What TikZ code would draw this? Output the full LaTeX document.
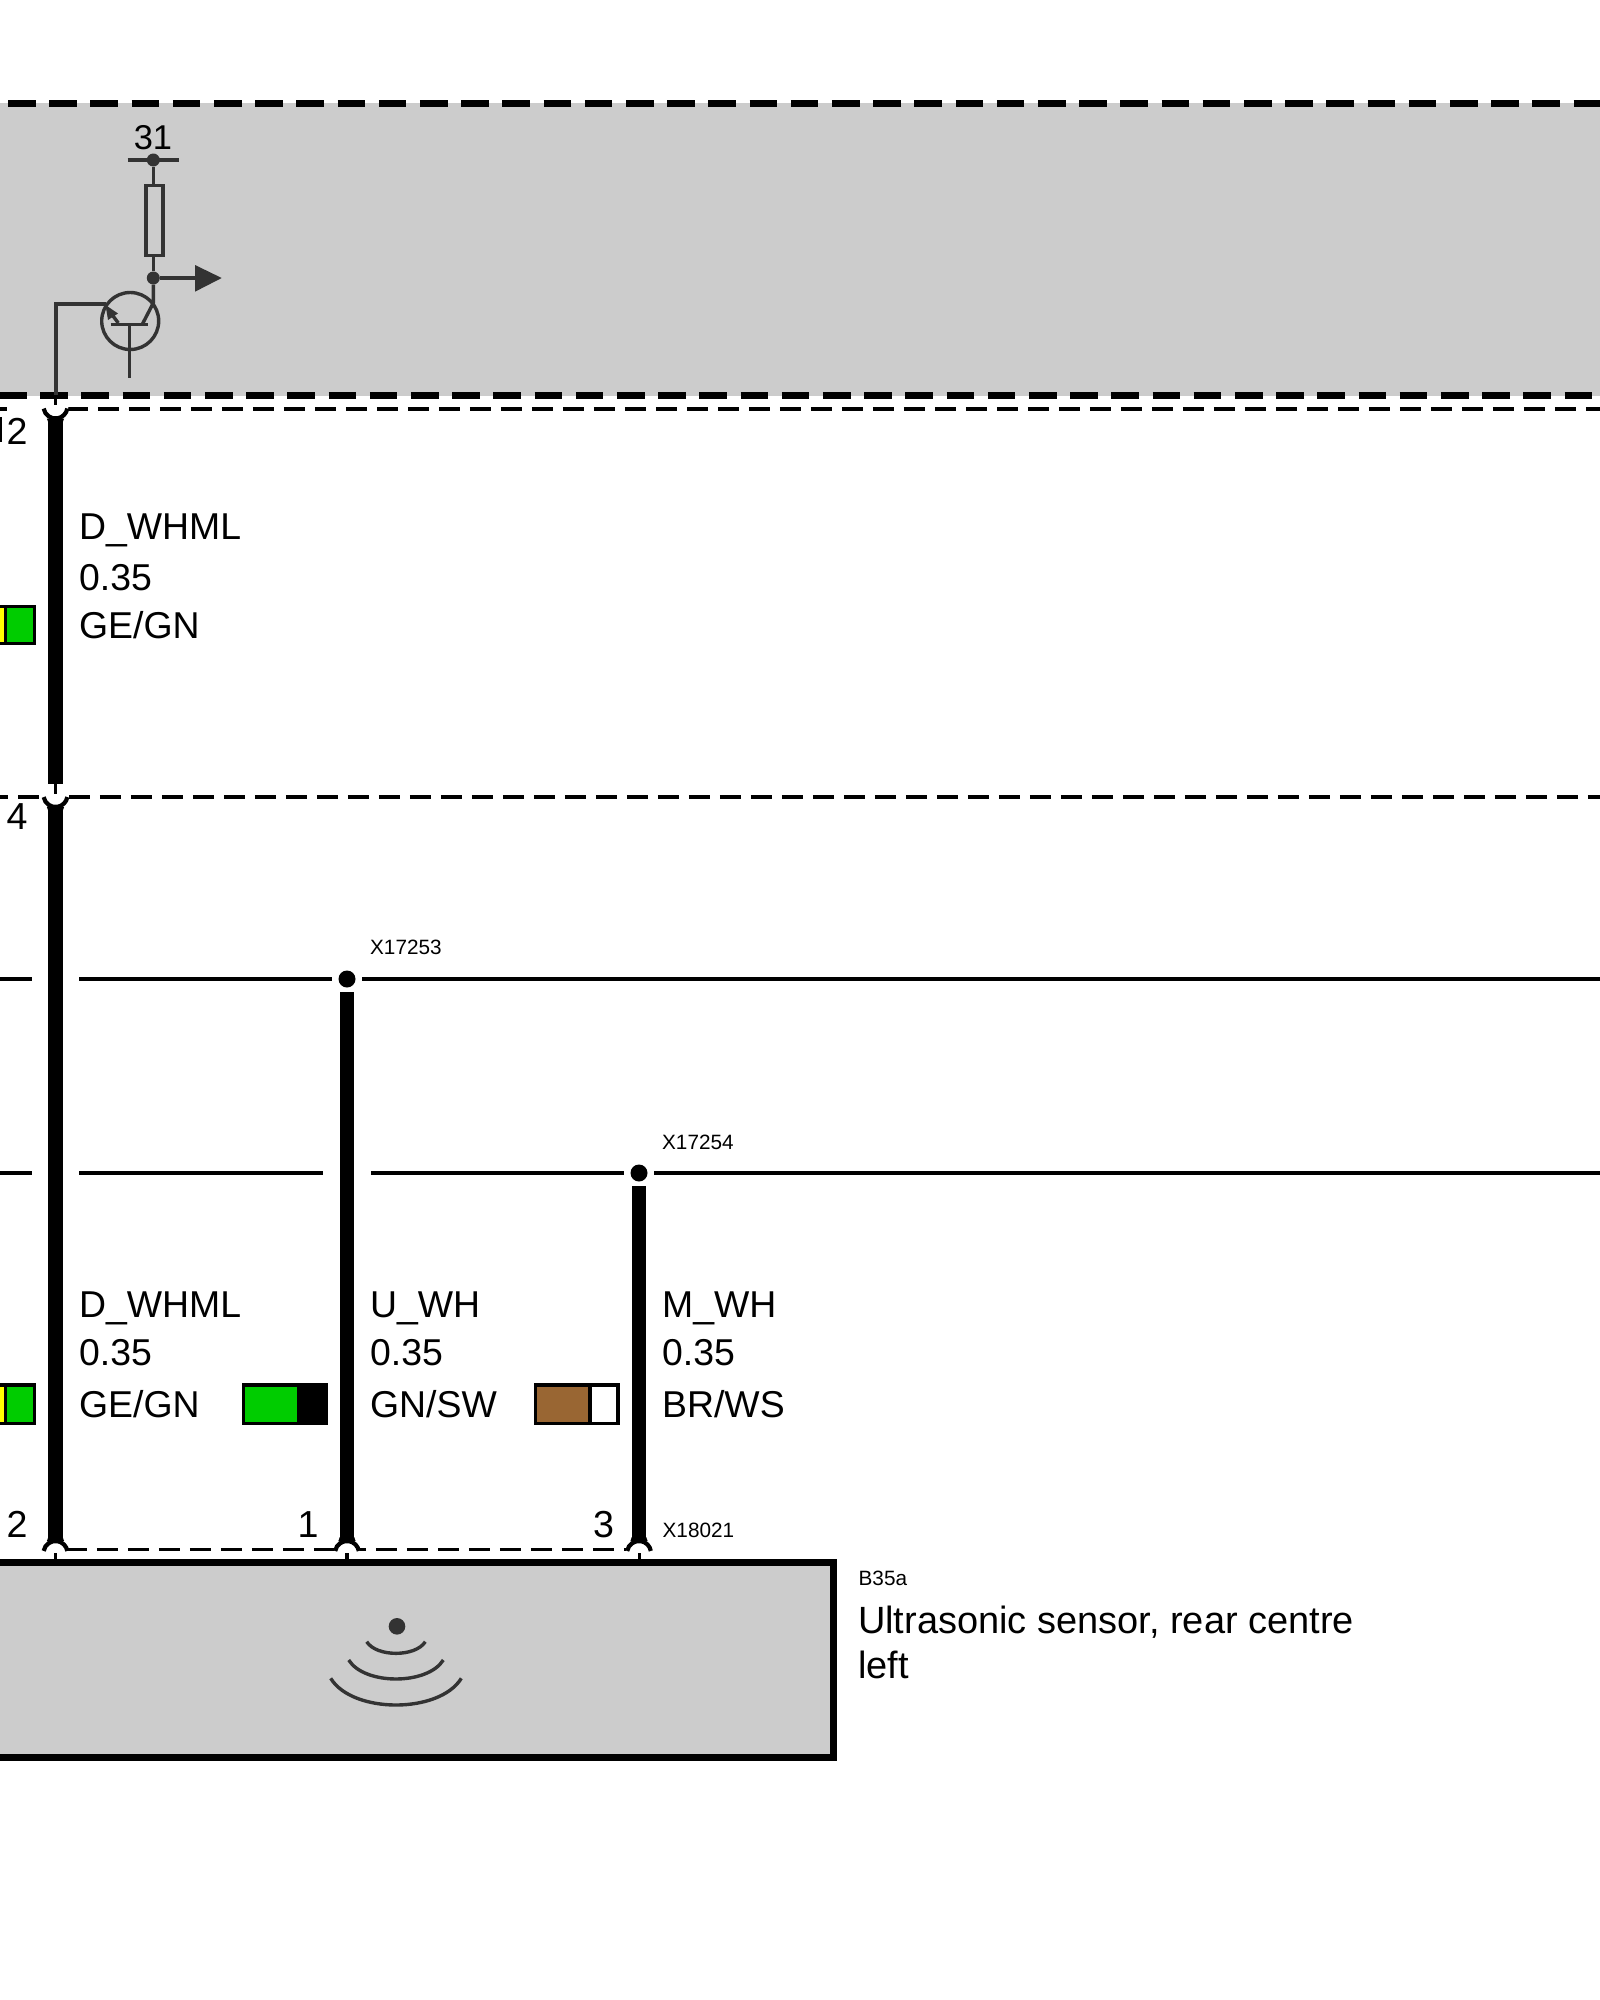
\documentclass[tikz,border=0pt]{standalone}
\usepackage{fontspec}
\setmainfont{Liberation Sans}
\tikzstyle{busline} = [line width=0.33cm, dash pattern=on 1.385cm off 0.675cm]
\tikzstyle{pinline} = [line width=0.19cm, dash pattern=on 1.05cm off 0.5cm]
\tikzstyle{pincap} = [line width=0.21cm]
\tikzstyle{pintick} = [line width=0.17cm]
\tikzstyle{wire} = [line width=0.72cm]
\tikzstyle{netline} = [line width=0.2cm]
\tikzstyle{splice} = [circle, fill=black, inner sep=0pt, minimum size=0.85cm]
\tikzstyle{symline} = [draw=symbol, line width=0.17cm]
\tikzstyle{symdot} = [circle, fill=symbol, inner sep=0pt, minimum size=0.65cm]
\tikzstyle{bigtext} = [anchor=base west, inner sep=0pt, font=\fontsize{53.2}{60}\selectfont]
\tikzstyle{sensortext} = [anchor=base west, inner sep=0pt, font=\fontsize{54}{60}\selectfont]
\tikzstyle{pintext} = [anchor=base, inner sep=0pt, font=\fontsize{53.5}{60}\selectfont]
\tikzstyle{smalltext} = [anchor=base west, inner sep=0pt, font=\fontsize{29.5}{35}\selectfont]
\tikzstyle{swatch} = [draw=black, line width=0.17cm]
\definecolor{panel}{HTML}{CCCCCC}
\definecolor{symbol}{HTML}{333333}
\definecolor{wiregreen}{HTML}{00CC00}
\definecolor{wirebrown}{HTML}{996633}
\definecolor{wireyellow}{HTML}{FFFF00}
% pin symbols, open side up or down
\newcommand{\pincup}[1]{%
  \fill[white] (#1) circle (0.65cm);
  \draw[pincap] (#1) ++(190:0.6cm) arc[start angle=190, end angle=350, radius=0.6cm];
  \fill ([shift={(-0.36cm,-0.8cm)}]#1) -- ([shift={(-0.43cm,-0.6cm)}]#1) -- ([shift={(0.43cm,-0.6cm)}]#1) -- ([shift={(0.36cm,-0.8cm)}]#1) -- cycle;
}
\newcommand{\pincapdown}[1]{%
  \fill[white] (#1) circle (0.65cm);
  \draw[pincap] (#1) ++(170:0.6cm) arc[start angle=170, end angle=10, radius=0.6cm];
  \fill ([shift={(-0.36cm,0.8cm)}]#1) -- ([shift={(-0.43cm,0.6cm)}]#1) -- ([shift={(0.43cm,0.6cm)}]#1) -- ([shift={(0.36cm,0.8cm)}]#1) -- cycle;
}

\begin{document}
\begin{tikzpicture}[x=0.05cm, y=-0.05cm]
\useasboundingbox (0,0) rectangle (1600,2000);

% connector lines
\draw[pinline] (67,409) -- (1600,409);
\draw[pinline] (0,409) -- (6.7,409);
\draw[pinline] (69,797) -- (1600,797);
\draw[line width=0.19cm] (0,797) -- (8,797);
\draw[line width=0.19cm] (18,797) -- (39,797);
\draw[pinline] (66,1549.5) -- (626,1549.5);

% pin positions
\coordinate (cupTop) at (55.5,406.5);
\coordinate (cupMid) at (55.5,795);
\coordinate (capA) at (55.5,1553);
\coordinate (capB) at (347,1553);
\coordinate (capC) at (639,1553);

\pincup{cupTop}
\pincup{cupMid}
\pincapdown{capA}
\pincapdown{capB}
\pincapdown{capC}

% control unit
\fill[panel] (0,103) rectangle (1600,395.5);
\draw[busline] (8,103.3) -- (1600,103.3);
\draw[busline] (-1,395.6) -- (1600,395.6);

% horizontal nets
\node[splice] (spliceU) at (347,979) {};
\node[splice] (spliceM) at (639,1173) {};
\coordinate (netUa) at (0,979);
\coordinate (netUb) at (32,979);
\coordinate (netUc) at (79,979);
\coordinate (netUd) at (1600,979);
\coordinate (netMa) at (0,1173);
\coordinate (netMb) at (32,1173);
\coordinate (netMc) at (79,1173);
\coordinate (netMd) at (323,1173);
\coordinate (netMe) at (371,1173);
\coordinate (netMf) at (1600,1173);
\draw[netline] (netUa) -- (netUb);
\draw[netline] (netUc) -- ([xshift=-0.75cm]spliceU.center);
\draw[netline] ([xshift=0.75cm]spliceU.center) -- (netUd);
\draw[netline] (netMa) -- (netMb);
\draw[netline] (netMc) -- (netMd);
\draw[netline] ([xshift=0.75cm]spliceM.center) -- (netMf);
\draw[netline] (netMe) -- ([xshift=-0.75cm]spliceM.center);

% wires
\coordinate (wireTopEnd) at (55.5,784);
\draw[wire] ([yshift=-0.75cm]cupTop) -- (wireTopEnd);
\draw[wire] ([yshift=-0.75cm]cupMid) -- ([yshift=0.75cm]capA);
\draw[wire] ([yshift=-0.65cm]spliceU.center) -- ([yshift=0.75cm]capB);
\draw[wire] ([yshift=-0.65cm]spliceM.center) -- ([yshift=0.75cm]capC);
\draw[pintick] (55.5,395) -- (55.5,405);
\draw[pintick] (wireTopEnd) -- (55.5,794);

% sensor
\node[draw=black, fill=panel, line width=0.33cm, inner sep=0pt, minimum width=42.2cm, minimum height=9.75cm] (sensor) at (411.7,1659.8) {};
\draw[pintick] (55.5,1553) -- (55.5,1560);
\draw[pintick] (347,1553) -- (347,1560);
\draw[pintick] (639.3,1553) -- (639.3,1560);
\node[symdot, minimum size=0.83cm] (sonarDot) at (397,1626.3) {};
\draw[symline] (366.7,1641.7) .. controls (376.5,1657.2) and (415.5,1657.2) .. (425.3,1641.7);
\draw[symline] (348.7,1660) .. controls (364.5,1685.3) and (427.5,1685.3) .. (443.3,1660);
\draw[symline] (330.7,1678.3) .. controls (352.5,1713.9) and (439.5,1713.9) .. (461.3,1678.3);

% transistor and resistor
\node[draw=symbol, line width=0.17cm, circle, inner sep=0pt, minimum size=2.85cm] (transistor) at (130.2,321) {};
\node[draw=symbol, line width=0.17cm, inner sep=0pt, minimum width=0.85cm, minimum height=3.5cm] (resistor) at (154.3,220.5) {};
\node[symdot] (groundDot) at (153.3,160) {};
\node[symdot] (outDot) at (153.3,278) {};
\coordinate (barLeft) at (127.7,160);
\coordinate (barRight) at (179,160);
\coordinate (arrowTip) at (221.7,278);
\coordinate (arrowBack) at (195,278);
\draw[symline] (barLeft) -- (barRight);
\draw[symline] (groundDot) -- (resistor.north -| groundDot);
\draw[symline] (resistor.south -| outDot) -- (outDot);
\draw[symline] (outDot) -- (arrowBack);
\fill[symbol] (195,265) -- (arrowTip) -- (195,291.7) -- cycle;
\draw[symline] (110.7,324.3) -- (148,324.3);
\draw[symline] (129.3,324.3) -- (129.3,378);
\draw[symline] (142.3,324.3) -- (153.3,303) -- (outDot);
\draw[symline] (118.3,323) -- (110,312);
\fill[symbol] (105.5,305) -- (118,313.5) -- (108,320) -- cycle;
\draw[symline] (106,304) -- (56,304) -- (56,395);

% swatches
\fill[wireyellow] (0,606) rectangle (5,644);
\fill[wiregreen] (5,606) rectangle (35,644);
\draw[swatch] (0,606.7) -- (34.5,606.7) -- (34.5,643.5) -- (0,643.5);
\draw[swatch] (5.7,606.7) -- (5.7,643.5);
\fill[wireyellow] (0,1385) rectangle (5,1424);
\fill[wiregreen] (5,1385) rectangle (35,1424);
\draw[swatch] (0,1385) -- (34.5,1385) -- (34.5,1423.5) -- (0,1423.5);
\draw[swatch] (5.7,1385) -- (5.7,1423.5);
\fill[wiregreen] (243,1385) rectangle (297,1424);
\fill[black] (297,1384) rectangle (327,1425);
\draw[swatch] (243.5,1385) rectangle (326,1423.5);
\fill[wirebrown] (535,1385) rectangle (590,1424);
\draw[swatch] (535.5,1385) rectangle (618,1423.5);
\draw[swatch] (590,1385) -- (590,1423.5);

% labels
\node[pintext, font=\fontsize{49}{60}\selectfont] (labelGnd) at (153,149) {31};
\node[pintext] (pinTwoTop) at (17,444) {2};
\draw[line width=0.1cm] (0.5,417) -- (0.5,442);
\node[pintext] (pinFour) at (17,829) {4};
\node[pintext] (pinTwo) at (17,1537) {2};
\node[pintext] (pinOne) at (308,1537) {1};
\node[pintext] (pinThree) at (603.5,1537) {3};
\node[bigtext] (nameA) at (79,539) {D\_WHML};
\node[bigtext] (sizeA) at (79,590) {0.35};
\node[bigtext] (colorA) at (79,638) {GE/GN};
\node[bigtext] (nameB) at (79,1317) {D\_WHML};
\node[bigtext] (sizeB) at (79,1365) {0.35};
\node[bigtext] (colorB) at (79,1417) {GE/GN};
\node[bigtext] (nameU) at (370,1317) {U\_WH};
\node[bigtext] (sizeU) at (370,1365) {0.35};
\node[bigtext] (colorU) at (370,1417) {GN/SW};
\node[bigtext] (nameM) at (662,1317) {M\_WH};
\node[bigtext] (sizeM) at (662,1365) {0.35};
\node[bigtext] (colorM) at (662,1417) {BR/WS};
\node[smalltext] (spliceUname) at (370,954) {X17253};
\node[smalltext] (spliceMname) at (662,1149) {X17254};
\node[smalltext] (plugName) at (662.5,1537) {X18021};
\node[smalltext] (sensorCode) at (858.5,1585) {B35a};
\node[sensortext] (sensorLineA) at (858,1633) {Ultrasonic sensor, rear centre};
\node[sensortext] (sensorLineB) at (858,1678) {left};
\end{tikzpicture}
\end{document}
